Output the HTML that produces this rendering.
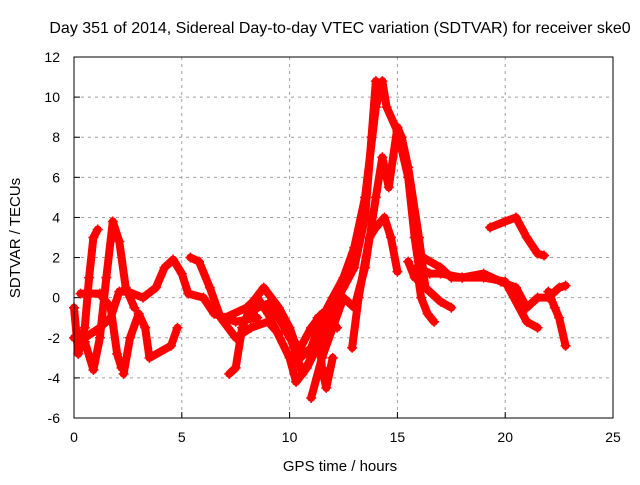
<!DOCTYPE html>
<html><head><meta charset="utf-8"><style>
body{margin:0;background:#fff;}
svg{font-family:"Liberation Sans",sans-serif;}
</style></head><body>
<svg id="chart" width="640" height="480">
<rect width="640" height="480" fill="#fff"/>
<text x="340" y="33" font-size="16" text-anchor="middle">Day 351 of 2014, Sidereal Day-to-day VTEC variation (SDTVAR) for receiver ske0</text>
<text x="340" y="471" font-size="15" text-anchor="middle">GPS time / hours</text>
<text transform="translate(20,238) rotate(-90)" font-size="15" text-anchor="middle">SDTVAR / TECUs</text>
<g id="grid"></g><g id="marks"></g>
<rect x="74" y="57" width="539" height="361" fill="none" stroke="#000"/>
</svg>
<script>
const xTicks=[0,5,10,15,20,25];
const yTicks=[-6,-4,-2,0,2,4,6,8,10,12];
const s1=[[0,-0.5],[0.2,-2.8],[0.5,-1.5],[0.7,1],[0.9,3],[1.1,3.4]];
const s2=[[0,-2],[0.5,-2.2],[0.9,-3.6],[1.2,-2],[1.5,1],[1.8,3.8],[2.1,2.8],[2.4,0.5],[2.8,-0.5]];
const s3=[[0.3,0.2],[1.2,0.2],[1.7,-0.5],[2,-2.8],[2.2,-3.5]];
const s4=[[0.5,-2],[1.2,-1.5],[1.7,-1],[2.1,0.3],[2.5,0.3],[3.2,0],[3.8,0.5],[4.2,1.5],[4.6,1.9],[5,1.2],[5.3,0.2],[6,0],[6.5,-0.8],[7.5,-1.2],[8.5,-1]];
const s5=[[2.3,-3.8],[2.6,-2],[3,-0.8],[3.3,-1.5],[3.5,-3],[4.5,-2.4],[4.8,-1.5]];
const s6=[[5.4,2],[5.8,1.8],[6.3,0.5],[6.8,-1],[7.5,-2],[8.2,-1.5],[9,-1.2],[9.5,-1.8]];
const s7=[[7,-1],[8,-0.5],[8.5,0],[9,-0.8],[10,-3],[10.3,-4.2],[10.8,-3.5],[11.5,-2],[12,-0.5],[12.5,0.5],[13,1.5],[13.5,4],[13.8,8],[14,10.8]];
const s8=[[7.2,-3.8],[7.5,-3.5],[7.8,-1.5],[8.3,-0.2],[8.8,0.5],[9.5,-0.5],[10,-1.5],[10.5,-3],[11,-2.5],[11.5,-1],[12,0],[12.5,1],[13,2.5],[13.5,5],[14,9.5],[14.3,10.8],[14.5,9.5],[15,8.3],[15.5,6],[15.8,3],[16,1.5],[16.5,1.2],[17,1.2],[18,1],[19,1],[20,0.8],[21,-1.2],[21.5,-1.5]];
const s9=[[11,-5],[11.5,-3],[12,-1.5],[12.5,0],[13,-0.5],[13.5,1.5],[14,5],[14.3,7],[14.6,5.5],[15,8.5],[15.2,8],[15.5,6.5],[16,3],[16.3,0.5],[16.8,0],[17,-0.2],[17.5,-0.5]];
const s10=[[12.9,-2.5],[13.2,0],[13.7,3],[14,3.5],[14.4,4],[14.7,3],[15,1.3]];
const s11=[[15.5,1.8],[15.8,1],[16.2,2],[17,1.5],[17.5,1],[18,1],[19,1.2],[19.8,0.8],[20.5,0.5],[21,-0.5],[21.5,0],[22,0],[22.5,0.5],[22.8,0.6]];
const s12=[[19.3,3.5],[20,3.8],[20.5,4],[21,3],[21.5,2.2],[21.8,2.1]];
const s13=[[22,0.3],[22.3,-0.5],[22.5,-1],[22.8,-2.4]];
const s14=[[15.9,1.5],[16.1,0],[16.4,-0.8],[16.7,-1.2]];
const s15=[[8,-1],[8.5,-0.5],[9,-0.3],[9.5,-1],[10,-2],[10.5,-2.5],[11,-1.5],[11.5,-0.8],[12,-0.5]];
const s16=[[9.2,-0.5],[9.8,-1.3],[10.2,-2.5],[10.6,-3.8],[11,-3],[11.4,-2],[11.8,-1],[12.2,-1.5]];
const s17=[[11.3,-1],[11.5,-3.5],[11.7,-4.5],[12,-3]];
const series=[s1,s2,s3,s4,s5,s6,s7,s8,s9,s10,s11,s12,s13,s14,s15,s16,s17];
const X=t=>74+t*(539/25);
const Y=v=>418-(v+6)*(361/18);
const NS="http://www.w3.org/2000/svg";
const grid=document.getElementById('grid'),marks=document.getElementById('marks');
function mk(tag,at,par){const e=document.createElementNS(NS,tag);for(const k in at)e.setAttribute(k,at[k]);par.appendChild(e);return e;}
xTicks.forEach(t=>{
 if(t>0&&t<25){const g=mk('line',{x1:X(t),x2:X(t),y1:57,y2:418,stroke:'#a0a0a0','stroke-dasharray':'3,4'},grid);
 
 }
 const tk=mk('line',{x1:X(t),x2:X(t),y1:418,y2:412,stroke:'#000'},grid);
 
 
 const lb=mk('text',{x:X(t),y:442,'font-size':14,'text-anchor':'middle'},grid);lb.textContent=t;
 
 
});
yTicks.forEach(v=>{
 if(v>-6&&v<12){const g=mk('line',{x1:74,x2:613,y1:Y(v),y2:Y(v),stroke:'#a0a0a0','stroke-dasharray':'3,4'},grid);
 
 }
 const tk=mk('line',{x1:74,x2:80,y1:Y(v),y2:Y(v),stroke:'#000'},grid);
 
 
 const lb=mk('text',{x:60,y:Y(v)+5,'font-size':14,'text-anchor':'end'},grid);lb.textContent=v;
 
 
});
series.forEach((s,i)=>{
 const p=mk('polyline',{points:s.map(d=>X(d[0])+','+Y(d[1])).join(' '),fill:'none',stroke:'#ff0000','stroke-width':8,'stroke-linejoin':'round','stroke-linecap':'round'},marks);
 
 
 s.forEach(d=>{
  const m=mk('path',{d:`M${X(d[0])-5},${Y(d[1])}h10M${X(d[0])},${Y(d[1])-5}v10`,stroke:'#ff0000','stroke-width':1.5},marks);
  
  
 });
});
</script>
</body></html>
